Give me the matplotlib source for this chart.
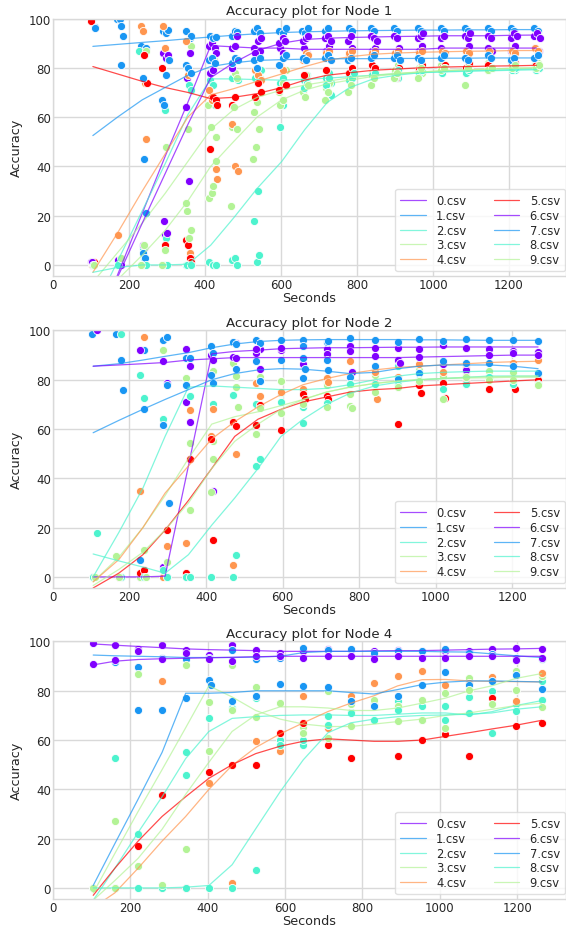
import matplotlib
matplotlib.use('Agg')
import matplotlib.pyplot as plt
import numpy as np

plt.style.use('seaborn-v0_8-whitegrid')
plt.rcParams['font.family'] = ['DejaVu Sans']

node_names = ['Node 1', 'Node 2', 'Node 4']
csv_labels = [f'{i}.csv' for i in range(10)]

# ---------------- Node 1 ----------------
n1_line_x = [105, 170, 235, 295, 355, 415, 475, 537, 602, 663, 722, 781, 843, 905, 966, 1027, 1090, 1150, 1211, 1272]
n1_lines = [
    [-29, -4, 21, 44, 66, 89, 88.5, 88, 88, 87.5, 87.5, 87.5, 87.5, 87.5, 87.5, 88, 88, 88, 88, 88],
    [88.7, 89.5, 90.3, 91, 91.8, 92.5, 93.2, 93.8, 94.3, 94.6, 94.8, 95, 95.1, 95.2, 95.3, 95.3, 95.4, 95.4, 95.5, 95.5],
    [-19, 1.5, 22, 41, 61, 75.5, 75.5, 75.2, 75, 75.3, 75.8, 76.4, 77, 77.5, 78, 78.3, 78.6, 78.8, 79, 79.2],
    [-7, 5, 17, 29, 42, 55, 63, 68, 71, 73, 74.5, 76, 77, 77.8, 78.3, 78.8, 79.2, 79.5, 79.8, 80],
    [-3, 13, 30, 45, 60, 69, 71.5, 74.5, 77.5, 80.5, 83, 84.5, 85.5, 86, 86.3, 86.5, 86.7, 86.8, 87, 87],
    [80.5, 77.5, 74.5, 72, 70, 67.5, 68, 69.5, 72, 75, 77, 78, 79, 79.5, 80, 80.3, 80.5, 80.7, 80.8, 81],
    [-27, -5, 17, 37, 57, 76, 82, 87, 90, 91.5, 92, 92.3, 92.5, 92.7, 92.8, 93, 93, 93, 93.2, 93.3],
    [52.5, 60, 67, 72, 77, 80.5, 82, 83, 83.3, 83.5, 83.6, 83.7, 83.7, 83.8, 83.8, 83.9, 83.9, 84, 84, 84],
    [-3, -1, 0, 0, 0.3, 8, 19, 31, 42, 55, 66, 72, 75.5, 77, 78, 78.5, 78.8, 79, 79.3, 79.5],
    [-15, -6, 4, 14, 26, 40, 50, 60, 67, 71, 73.5, 75, 76.5, 77.5, 78.3, 78.8, 79.2, 79.5, 79.8, 80],
]
n1_dots = [
    [(100, 1), (108, 0.5), (175, 0), (240, 7), (290, 86), (298, 84), (296, 12), (352, 76), (357, 34), (410, 89), (418, 90), (426, 88), (470, 88), (480, 89), (530, 88), (545, 87), (598, 88), (606, 86), (660, 88), (668, 86), (718, 87), (726, 89), (778, 86), (786, 88), (840, 87), (848, 88), (900, 86), (910, 88), (962, 87), (970, 89), (1022, 88), (1032, 86), (1086, 87), (1094, 89), (1146, 88), (1154, 87), (1206, 87), (1216, 89), (1268, 88), (1278, 87)],
    [(102, 100), (110, 96.5), (168, 100), (176, 100), (180, 97), (184, 93), (232, 89), (244, 88), (290, 95), (298, 94), (302, 95.5), (350, 95), (360, 92), (364, 93), (412, 93), (420, 92), (430, 92.5), (470, 93), (478, 95), (484, 94.5), (530, 95), (538, 96), (546, 94), (596, 95), (604, 94), (612, 96), (656, 95), (664, 94), (672, 96), (716, 95), (724, 96), (778, 96), (786, 95), (838, 96), (846, 95), (898, 96), (906, 95), (960, 96), (968, 95), (1022, 96), (1030, 95), (1084, 96), (1092, 95), (1144, 96), (1152, 95), (1206, 96), (1214, 95), (1266, 96), (1276, 95)],
    [(104, 0), (176, 0), (236, 7), (240, 3), (226, 87), (298, 11), (294, 63), (350, 0), (358, 73), (362, 71), (412, 75), (420, 73), (426, 65), (472, 76), (480, 78), (486, 75), (532, 76), (540, 77), (548, 79), (598, 74), (604, 76), (612, 73), (660, 75), (668, 77), (718, 76), (726, 78), (732, 74), (778, 76), (786, 77), (840, 77), (848, 78), (900, 78), (908, 76), (962, 77), (970, 79), (1024, 78), (1032, 80), (1086, 78), (1094, 80), (1146, 79), (1154, 80), (1208, 80), (1216, 79), (1270, 79), (1278, 80)],
    [(102, 0), (174, 0), (238, 0), (244, 87), (292, 0), (298, 48), (350, 25), (356, 55), (362, 89), (408, 65), (416, 56), (424, 83), (428, 52), (470, 56), (478, 78), (484, 76), (530, 62), (538, 66), (546, 76), (596, 70), (604, 74), (612, 79), (658, 70), (666, 77), (718, 72), (726, 74), (778, 75), (786, 78), (840, 78), (848, 80), (900, 79), (908, 81), (962, 80), (970, 78), (1022, 81), (1086, 80), (1094, 82), (1146, 82), (1206, 82), (1216, 80), (1268, 81), (1276, 82)],
    [(104, 0), (172, 12), (232, 97), (238, 95), (242, 74), (246, 51), (290, 97), (296, 88), (350, 91), (356, 77), (360, 5), (364, 3), (410, 71), (418, 67), (428, 39), (432, 35), (472, 57), (480, 40), (486, 38), (532, 79), (540, 77), (548, 75), (598, 81), (606, 79), (658, 83), (666, 86), (672, 85), (718, 86), (726, 87), (778, 86), (786, 87), (840, 86), (848, 87), (900, 86), (908, 87), (962, 86), (970, 87), (1024, 87), (1032, 86), (1086, 87), (1094, 86), (1148, 87), (1208, 87), (1216, 86), (1268, 88), (1276, 87)],
    [(100, 99), (108, 1), (176, 2), (240, 85), (248, 74), (288, 80), (294, 8), (350, 10), (356, 8), (360, 3), (364, 1), (412, 47), (420, 68), (428, 67), (432, 65), (472, 65), (480, 68), (532, 68), (540, 74), (548, 70), (596, 71), (606, 67), (612, 73), (660, 77), (668, 74), (718, 79), (726, 76), (778, 78), (786, 80), (840, 81), (848, 80), (902, 76), (910, 80), (962, 79), (970, 81), (1024, 80), (1032, 81), (1086, 80), (1094, 82), (1146, 81), (1154, 80), (1208, 81), (1216, 82), (1270, 81), (1278, 80)],
    [(104, 1), (172, 2), (180, 0), (238, 8), (292, 18), (300, 13), (302, 85), (350, 64), (360, 86), (412, 78), (422, 79), (428, 86), (472, 80), (478, 89), (484, 93), (532, 86), (540, 91), (548, 92), (596, 90), (604, 92), (610, 91), (658, 91), (666, 92), (672, 93), (716, 92), (724, 93), (732, 91), (776, 91), (784, 93), (838, 93), (846, 92), (852, 91), (898, 93), (906, 92), (960, 92), (968, 93), (974, 94), (1020, 92), (1030, 93), (1084, 93), (1092, 92), (1098, 94), (1144, 93), (1152, 92), (1204, 92), (1212, 94), (1220, 93), (1266, 93), (1274, 94), (1282, 92)],
    [(110, 96), (180, 81), (236, 76), (240, 43), (244, 21), (238, 5), (242, 3), (288, 67), (292, 65), (298, 77), (304, 83), (350, 81), (356, 80), (362, 78), (410, 83), (418, 84), (426, 82), (470, 82), (478, 84), (486, 83), (530, 83), (538, 80), (546, 84), (596, 81), (604, 84), (612, 85), (658, 84), (666, 83), (716, 84), (724, 85), (732, 83), (776, 83), (784, 84), (838, 84), (846, 85), (898, 84), (906, 85), (914, 83), (960, 84), (968, 83), (1022, 84), (1030, 85), (1084, 84), (1092, 83), (1144, 85), (1152, 84), (1206, 83), (1214, 84), (1266, 84), (1276, 85)],
    [(106, 0), (172, 0), (232, 0), (246, 0), (290, 0), (300, 0), (352, 0), (362, 0), (410, 1), (420, 0), (428, 0), (470, 2), (478, 3), (484, 0), (530, 18), (540, 30), (538, 1), (542, 4), (598, 56), (606, 65), (660, 72), (668, 74), (718, 73), (726, 76), (732, 69), (778, 75), (786, 76), (792, 78), (840, 77), (848, 78), (900, 76), (908, 79), (962, 78), (970, 79), (1024, 78), (1032, 80), (1086, 78), (1094, 79), (1146, 79), (1154, 80), (1208, 79), (1216, 80), (1270, 79), (1278, 80)],
    [(108, 0), (180, 3), (232, 0), (240, 8), (288, 0), (294, 6), (352, 22), (358, 11), (364, 14), (410, 27), (418, 29), (422, 32), (430, 42), (468, 24), (476, 64), (484, 55), (526, 43), (534, 48), (542, 55), (598, 65), (606, 67), (662, 68), (670, 73), (716, 67), (724, 70), (776, 70), (784, 73), (838, 73), (846, 76), (898, 76), (906, 78), (960, 76), (968, 80), (1022, 79), (1030, 80), (1084, 73), (1092, 80), (1146, 79), (1154, 80), (1208, 80), (1216, 81), (1270, 80), (1278, 81)],
]

# ---------------- Node 2 ----------------
n2_line_x = [105, 172, 235, 293, 354, 415, 475, 536, 596, 654, 715, 776, 841, 902, 958, 1019, 1080, 1141, 1202, 1268]
n2_lines = [
    [0, 0, 0, 0.3, 45, 90.5, 91.5, 92, 92.6, 92.8, 93, 93, 93.1, 93.2, 93.2, 93.3, 93.3, 93.3, 93.3, 93.3],
    [85.5, 86.5, 88, 89.5, 91, 93, 94.5, 95.5, 96, 96.2, 96.3, 96.3, 96.3, 96.3, 96.2, 96.2, 96.1, 96, 96, 96],
    [0, 18, 36, 57, 77, 77.5, 77, 76.5, 76, 76, 76.5, 78, 80, 81.5, 82.5, 83, 83.3, 83.5, 83.5, 83.5],
    [-2, 8, 20, 33, 48, 62, 65, 67, 69.5, 72, 75, 77, 78.5, 79.5, 80, 80.5, 80.7, 80.8, 81, 81],
    [-2, 7, 20, 34, 45, 56, 63, 69, 74, 78, 80.5, 82.5, 84, 85, 85.5, 86, 86.5, 87, 87.3, 87.5],
    [-4.5, 1.5, 9, 19, 31, 44, 57, 64, 68, 71, 73, 75, 76, 76.5, 77.5, 78, 78.5, 79, 79.5, 80],
    [85.5, 86, 86.5, 87, 88, 88.5, 89, 89, 89, 89, 89, 89, 89, 89, 89.2, 89.4, 89.6, 89.8, 90, 90],
    [58.5, 63.5, 68, 72, 76, 80, 82.5, 84, 84.5, 84.3, 83.5, 82.5, 83, 84.5, 85.5, 86, 86, 86, 85.5, 84.5],
    [9.3, 6.5, 4, 1.5, 9, 21, 32, 44, 57, 64, 70, 74.5, 77.5, 79, 80, 80.5, 81, 81.5, 81.5, 81.5],
    [-3.5, 3, 10, 19, 30, 44, 55, 62, 68, 72, 75, 77, 78.5, 79.5, 80, 80.5, 81, 81.2, 81.4, 81.5],
]
n2_dots = [
    [(105, 0), (177, 0), (228, 0), (287, 4), (297, 0), (349, 71), (358, 63), (412, 90), (419, 35), (479, 95), (540, 92.4), (531, 91), (596, 92.2), (654, 93.7), (715, 92.3), (776, 93.8), (841, 92.8), (902, 92.8), (958, 92.3), (1019, 93.9), (1080, 92.8), (1141, 92.5), (1202, 91.7), (1268, 91.4)],
    [(103, 98.4), (166, 98.7), (237, 92), (287, 96), (297, 97.5), (349, 89), (358, 88.7), (412, 93.6), (419, 91), (470, 95.5), (479, 94.5), (531, 96.2), (540, 95), (596, 96.2), (654, 96.3), (654, 93.5), (715, 95.3), (720, 95.6), (776, 97), (841, 96), (902, 95.3), (958, 96.6), (1019, 95.6), (1080, 96.6), (1141, 96), (1202, 96.3), (1268, 95.7)],
    [(114, 17.9), (177, 98.4), (228, 82), (237, 72.4), (287, 64), (358, 73.4), (419, 70), (470, 74), (531, 70), (596, 74.5), (654, 69), (715, 78.8), (776, 78.3), (841, 83.8), (902, 85.6), (958, 79.8), (1019, 79.8), (1080, 78.3), (1141, 81), (1202, 78.3), (1268, 78.3)],
    [(105, 0), (166, 8.5), (228, 0), (287, 92), (349, 80.8), (358, 54.5), (419, 83.4), (419, 55), (470, 87), (479, 81.5), (540, 81), (531, 58), (596, 79.3), (654, 76), (715, 78), (776, 74.3), (841, 81.8), (902, 77), (958, 83.8), (1019, 81.6), (1080, 81.8), (1141, 83.4), (1202, 83), (1268, 81.8)],
    [(105, 0), (172, 0), (237, 97.4), (228, 34.7), (297, 12.5), (287, 0), (349, 13.8), (358, 67.8), (412, 57), (419, 68), (479, 50), (470, 5), (531, 78.5), (540, 73.4), (596, 75), (654, 76.2), (715, 80.7), (720, 79), (776, 87.6), (841, 83), (846, 72), (902, 81), (958, 86.5), (1019, 83.3), (1080, 85), (1141, 81), (1202, 87), (1268, 88)],
    [(172, 0), (228, 1.4), (237, 3), (297, 19), (349, 1.6), (358, 48), (412, 55.8), (419, 15), (470, 63), (479, 61.3), (540, 69.7), (531, 61.5), (596, 59.6), (654, 74.3), (660, 72.3), (715, 73.4), (720, 72), (841, 78.8), (902, 61.9), (958, 77.7), (963, 74.7), (1019, 78.5), (1024, 72.6), (1080, 79.2), (1141, 76.4), (1202, 79.5), (1207, 76.4), (1268, 80)],
    [(114, 100), (228, 92), (287, 87.5), (297, 78.8), (349, 92.4), (358, 85.5), (419, 88), (470, 89.4), (479, 89), (531, 92.3), (540, 84.5), (596, 93), (654, 86.4), (715, 90.5), (776, 91.7), (781, 83), (841, 89.6), (902, 87.9), (907, 86.8), (958, 89.2), (1019, 86.4), (1080, 84), (1141, 90), (1202, 91), (1268, 90)],
    [(177, 88), (182, 75.7), (237, 68.3), (228, 7), (287, 61.8), (297, 77.8), (302, 30), (349, 77.8), (412, 82), (419, 78.5), (479, 84.3), (531, 87.6), (540, 79.5), (596, 88.2), (654, 88.7), (660, 84.4), (654, 80.7), (715, 88.2), (720, 84), (776, 81), (841, 85.5), (902, 80.2), (958, 82.9), (1019, 87.7), (1080, 87), (1141, 87), (1202, 85.6), (1268, 82.6)],
    [(105, 0), (177, 0), (237, 0), (287, 2.6), (297, 0), (349, 0), (358, 0), (412, 0), (479, 9), (470, 0), (531, 45), (540, 48), (596, 71), (654, 62.6), (715, 70.7), (776, 78.3), (841, 78.4), (902, 77.9), (958, 79.8), (1019, 76.2), (1080, 78.3), (1141, 81), (1202, 78.3), (1268, 78.3)],
    [(110, 0), (172, 0), (237, 11), (242, 0), (297, 6), (358, 27.3), (419, 48), (412, 34.5), (479, 77), (484, 68.8), (540, 68.6), (596, 66.6), (654, 70.3), (715, 69), (776, 69.5), (781, 68.6), (841, 75), (902, 77), (958, 79.5), (1019, 72.3), (1080, 81), (1141, 80), (1202, 80), (1268, 78)],
]

# ---------------- Node 4 ----------------
n4_line_x = [104, 160, 220, 282, 343, 403, 463, 524, 587, 647, 711, 770, 830, 891, 954, 1014, 1076, 1134, 1196, 1263]
n4_lines = [
    [99, 98.5, 98, 97.5, 97, 96.7, 96.5, 96.3, 96, 96, 96, 96, 96.2, 96.3, 96.3, 96.5, 96.7, 96.9, 97, 97.2],
    [94.5, 94.2, 94, 93.8, 93.5, 93.5, 93.5, 93.7, 94, 95.5, 96, 96, 96, 96, 96, 95.8, 95.7, 95, 94.2, 93.5],
    [-5, 8, 22.5, 37, 52.5, 63.5, 68.8, 69.5, 70, 70.2, 70.2, 70, 70, 70.5, 71, 71, 70.2, 71.5, 74, 76],
    [-2, 14, 31, 48, 65, 82, 77.5, 72, 68.5, 66.5, 65.5, 65.5, 66.5, 67.5, 68.5, 70, 71, 72.5, 74, 75],
    [-8, -2, 8, 19, 29, 40, 49.7, 57, 62.5, 67, 71.6, 75, 78, 82, 84.5, 84.6, 84, 83.8, 83.7, 83.6],
    [-3, 8, 19, 29, 37, 44.5, 50, 54.5, 57.5, 59.5, 60.5, 60, 59.5, 59.5, 60, 61.5, 63, 64.5, 66, 68],
    [90.5, 92, 92.7, 93, 93.2, 93.4, 93.6, 93.8, 94, 94, 94, 94, 94, 94, 94, 94, 94, 94, 94, 94],
    [1, 18, 36, 55, 79, 79, 79.3, 80, 80, 80, 80, 79.3, 78.7, 80.5, 82.5, 83.5, 84, 84, 83.8, 83.6],
    [0, 0, 0, 0, 0.3, 1, 9.4, 24, 39, 52, 63, 67, 68.5, 69.5, 70, 70.2, 70.5, 71, 72.5, 73.5],
    [-5, 3, 12, 23.8, 38, 51, 63.5, 70.2, 73.5, 73.5, 73, 72, 72, 73, 75, 77, 80, 82, 85, 87],
]
n4_dots = [
    [(104, 99.5), (160, 98.5), (220, 97), (282, 98.5), (343, 96.5), (403, 94.5), (463, 98.5), (524, 96.5), (587, 95.5), (647, 96), (711, 97), (770, 96.5), (830, 96), (891, 96.5), (954, 96), (1014, 96), (1076, 96), (1134, 97), (1196, 97.5), (1263, 97)],
    [(160, 91.5), (220, 89.7), (282, 93.5), (343, 93), (403, 93.5), (463, 96.5), (524, 93), (587, 93.5), (647, 97.5), (711, 96.5), (770, 97), (830, 95.5), (891, 96), (954, 96), (1014, 96.8), (1076, 95.5), (1134, 95), (1196, 93.5), (1263, 93)],
    [(160, 52.8), (220, 22), (343, 55), (343, 46), (403, 68.8), (463, 73), (524, 77), (587, 60), (647, 58), (711, 69.8), (770, 71.3), (830, 74.6), (891, 76), (954, 74), (1014, 74), (1076, 77.5), (1134, 80), (1196, 74.6), (1263, 84)],
    [(104, 0), (160, 27), (220, 86.9), (282, 0), (343, 90.3), (403, 75.4), (463, 90.3), (524, 81.7), (587, 75), (647, 65.5), (711, 79.8), (770, 74.6), (830, 76.4), (891, 74), (954, 76.2), (1014, 79), (1076, 85), (1134, 85.2), (1196, 88), (1263, 86)],
    [(104, 0), (282, 84), (403, 42.6), (463, 2), (524, 59.8), (587, 55.5), (647, 77.9), (711, 64.8), (770, 78), (830, 83.2), (891, 86), (954, 88), (1014, 82.5), (1076, 83), (1134, 85.6), (1196, 76), (1263, 87.3)],
    [(220, 17.2), (282, 37.7), (343, 0), (403, 47), (463, 49.7), (524, 49.8), (587, 63), (647, 67), (711, 57.8), (770, 52.9), (891, 53.7), (954, 60), (1014, 62.3), (1076, 53.7), (1134, 77), (1196, 65.6), (1263, 67)],
    [(104, 90.7), (160, 92.5), (220, 96), (282, 93), (343, 95.5), (403, 93), (463, 92), (524, 94), (587, 94), (647, 93.5), (711, 94), (770, 94), (830, 93), (891, 94), (954, 93.5), (1014, 93.5), (1076, 94), (1134, 94), (1196, 92.5), (1263, 93.5)],
    [(160, 0), (220, 72.3), (282, 72), (343, 77), (403, 84.4), (408, 82.5), (463, 75.8), (524, 77.7), (587, 82.7), (647, 82), (711, 81.5), (770, 76), (830, 74), (891, 78), (954, 82.4), (1014, 87.7), (1076, 82.2), (1134, 84), (1196, 86.6), (1263, 80.7)],
    [(104, 0), (160, 0), (220, 0), (282, 0), (343, 0), (403, 0), (463, 0), (524, 7.2), (587, 58), (647, 60), (711, 66), (770, 71), (830, 68.2), (891, 72), (954, 68), (1014, 68), (1076, 71), (1134, 63), (1196, 71.6), (1263, 76.3)],
    [(104, 0), (160, 0), (220, 8.9), (282, 1), (343, 15.6), (403, 55.6), (463, 72.2), (524, 69.4), (587, 75), (647, 62.7), (711, 61), (770, 65.6), (891, 67.8), (954, 68.3), (1014, 64.8), (1076, 80.5), (1134, 74.6), (1196, 80.3), (1263, 73.4)],
]

panel_lines_x = [n1_line_x, n2_line_x, n4_line_x]
panel_lines = [n1_lines, n2_lines, n4_lines]
panel_dots = [n1_dots, n2_dots, n4_dots]
panel_xmax = [1350, 1341, 1326]

palette = plt.cm.rainbow(np.linspace(0, 1, 6))

fig = plt.figure(figsize=(5.66, 9.29), dpi=100)
bottoms = [0.7018, 0.366, 0.0312]

for k in range(3):
    ax = fig.add_axes([0.0936, bottoms[k], 0.9064, 0.2772])
    for i in range(10):
        c = palette[i % 6]
        dx, dy = zip(*panel_dots[k][i])
        ax.scatter(dx, dy, s=34, color=c, edgecolors='white', linewidths=0.6)
        ax.plot(panel_lines_x[k], panel_lines[k][i], color=c, lw=0.9, alpha=0.7,
                label=csv_labels[i])
    ax.set_xlim(0, panel_xmax[k])
    ax.set_ylim(-4.5, 100)
    ax.set_title(f'Accuracy plot for {node_names[k]}', fontsize=9.6, pad=3, color='0.15')
    ax.set_xlabel('Seconds', fontsize=9.2, labelpad=0, color='0.15')
    ax.set_ylabel('Accuracy', fontsize=9.2, color='0.15')
    ax.tick_params(labelsize=8.5, pad=1.5, colors='0.15')
    ax.grid(True, color='0.85', lw=1)
    for sp in ax.spines.values():
        sp.set_color('0.85')
    leg = ax.legend(loc='lower right', ncol=2, fontsize=8.3, frameon=True,
                    bbox_to_anchor=(0.998, 0.018), borderaxespad=0,
                    labelspacing=0.15, borderpad=0.45, handlelength=2.2,
                    handletextpad=0.9, columnspacing=2.4)
    leg.get_frame().set_edgecolor('0.85')

fig.savefig('out.png', dpi=100)
